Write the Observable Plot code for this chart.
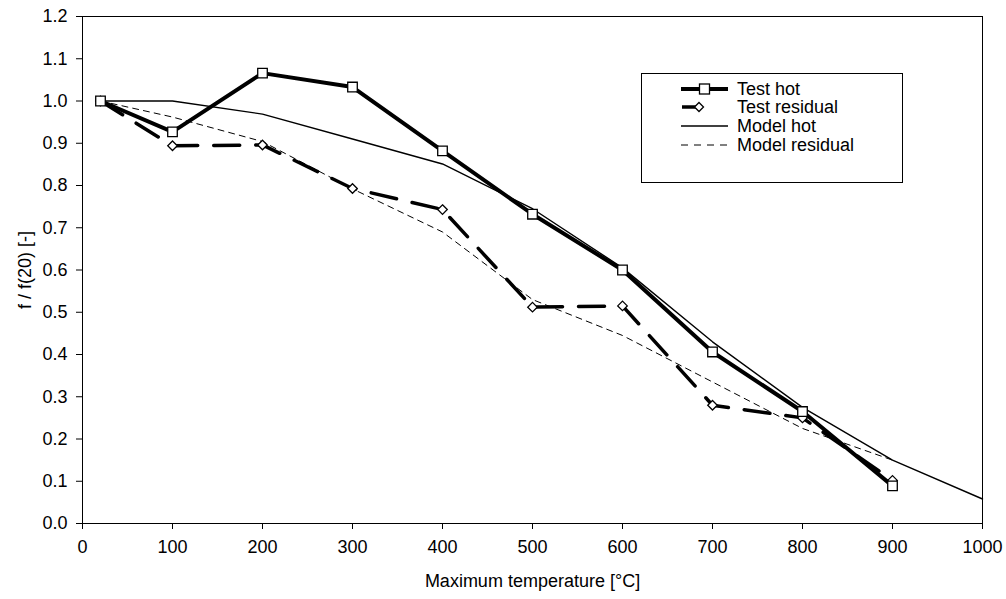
<!DOCTYPE html>
<html>
<head>
<meta charset="utf-8">
<script src="https://cdn.jsdelivr.net/npm/d3@7"></script>
<script src="https://cdn.jsdelivr.net/npm/@observablehq/plot@0.6"></script>
<style>
  html, body { margin: 0; padding: 0; background: #fff; overflow: hidden; }
  #wrap { position: relative; width: 1006px; height: 599px; font-family: "Liberation Sans", Arial, sans-serif; }
  #wrap svg.plot { max-width: none; }
  #legend { position: absolute; left: 641px; top: 73px; width: 262px; height: 110px; border: 1px solid #000; background: #fff; box-sizing: border-box; }
  #legend .row { position: absolute; left: 0; height: 20px; display: flex; align-items: center; }
  #legend .row svg { display: block; }
  #legend .row span { position: absolute; left: 95px; font-size: 18px; white-space: nowrap; line-height: 20px; top: 0; }
</style>
</head>
<body>
<div id="wrap"></div>
<script>
// Data
const testTemps = [20, 100, 200, 300, 400, 500, 600, 700, 800, 900];
const testHot = [1.0, 0.927, 1.066, 1.033, 0.882, 0.732, 0.600, 0.406, 0.265, 0.089];
const testResidual = [1.0, 0.894, 0.896, 0.793, 0.743, 0.512, 0.515, 0.280, 0.250, 0.102];

const modelHotTemps = [20, 100, 200, 300, 400, 500, 600, 700, 800, 900, 1000];
const modelHot = [1.0, 1.0, 0.969, 0.910, 0.851, 0.745, 0.605, 0.430, 0.275, 0.150, 0.058];

const modelResTemps = [20, 100, 200, 300, 400, 500, 600, 700, 800, 900];
const modelResidual = [1.0, 0.962, 0.904, 0.792, 0.690, 0.530, 0.445, 0.335, 0.225, 0.150];

const xTicks = [0, 100, 200, 300, 400, 500, 600, 700, 800, 900, 1000];
const yTicks = [0, 0.1, 0.2, 0.3, 0.4, 0.5, 0.6, 0.7, 0.8, 0.9, 1.0, 1.1, 1.2];

const seriesNames = ["Test hot", "Test residual", "Model hot", "Model residual"];

const th = testTemps.map((t, i) => ({t, v: testHot[i]}));
const tr = testTemps.map((t, i) => ({t, v: testResidual[i]}));
const mh = modelHotTemps.map((t, i) => ({t, v: modelHot[i]}));
const mr = modelResTemps.map((t, i) => ({t, v: modelResidual[i]}));

const chart = Plot.plot({
  width: 1006,
  height: 599,
  marginLeft: 82,
  marginRight: 24,
  marginTop: 16,
  marginBottom: 76,
  style: { fontFamily: "Liberation Sans, Arial, sans-serif", fontSize: "18px", background: "#fff", color: "#000", maxWidth: "none" },
  x: { domain: [0, 1000], ticks: xTicks, tickFormat: d3.format("d"), tickSize: 6, tickPadding: 11, label: "Maximum temperature [°C]", labelAnchor: "center", labelOffset: 63, labelArrow: "none" },
  y: { domain: [0, 1.2], ticks: yTicks, tickFormat: d3.format(".1f"), tickSize: 6, tickPadding: 9, label: "f / f(20) [-]", labelAnchor: "center", labelOffset: 64, labelArrow: "none" },
  marks: [
    Plot.frame({stroke: "#000", strokeWidth: 1}),
    Plot.line(mr, {x: "t", y: "v", stroke: "#000", strokeWidth: 1, strokeDasharray: "6,5"}),
    Plot.line(mh, {x: "t", y: "v", stroke: "#000", strokeWidth: 1.4}),
    Plot.line(tr, {x: "t", y: "v", stroke: "#000", strokeWidth: 3.5, strokeDasharray: "26,16"}),
    Plot.line(th, {x: "t", y: "v", stroke: "#000", strokeWidth: 4}),
    Plot.dot(tr, {x: "t", y: "v", symbol: "diamond2", r: 4.3, fill: "#fff", stroke: "#000", strokeWidth: 1.3}),
    Plot.dot(th, {x: "t", y: "v", symbol: "square", r: 5.4, fill: "#fff", stroke: "#000", strokeWidth: 1.3})
  ]
});

const wrap = document.getElementById("wrap");
wrap.appendChild(chart);

// Legend
const legend = document.createElement("div");
legend.id = "legend";
const rowsY = [5, 23, 42, 61];
const symbols = [
  `<svg width="90" height="20"><line x1="39" y1="10" x2="86" y2="10" stroke="#000" stroke-width="4"/><rect x="57.5" y="5" width="10" height="10" fill="#fff" stroke="#000" stroke-width="1.3"/></svg>`,
  `<svg width="90" height="20"><line x1="40" y1="10" x2="56" y2="10" stroke="#000" stroke-width="3.5"/><path d="M57,5.5 L61.5,10 L57,14.5 L52.5,10 Z" fill="#fff" stroke="#000" stroke-width="1.3"/></svg>`,
  `<svg width="90" height="20"><line x1="39" y1="10" x2="86" y2="10" stroke="#000" stroke-width="1.4"/></svg>`,
  `<svg width="90" height="20"><line x1="39" y1="10" x2="86" y2="10" stroke="#000" stroke-width="1" stroke-dasharray="7,6"/></svg>`
];
seriesNames.forEach((name, i) => {
  const row = document.createElement("div");
  row.className = "row";
  row.style.top = rowsY[i] + "px";
  row.innerHTML = symbols[i] + `<span>${name}</span>`;
  legend.appendChild(row);
});
wrap.appendChild(legend);
</script>
</body>
</html>
